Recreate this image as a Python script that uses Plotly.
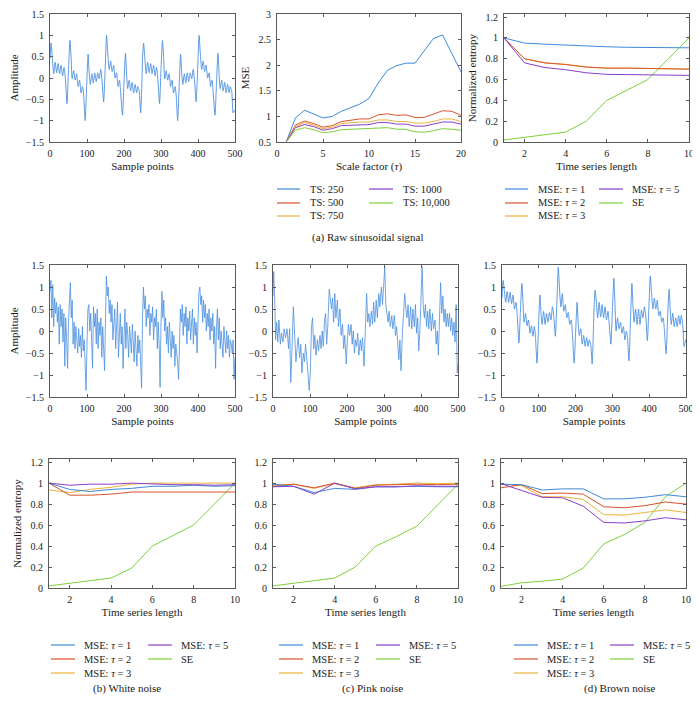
import plotly.graph_objects as go
import numpy as np

OFF = 8                 # default page margin of the browser body
W, H = 692, 694         # figure size so that it fits the 700x702 window
FONT = "Liberation Serif, Times New Roman, serif"
TXT = "#1a1a1a"
AX = "#5a5a5a"

colors = ["#3D8BDB", "#D9532C", "#EDB23A", "#8A3FC8", "#7ED13A"]
sig_color = "#4A8FE0"

# ---------------- signals (sample index / amplitude) ----------------
raw_x = [0, 3, 6, 10, 14, 18, 22, 26, 30, 34, 38, 41, 46, 50, 54, 57, 60, 64, 68, 72,
         76, 80, 84, 88, 91, 95, 99, 103, 106, 109, 113, 117, 121, 125, 129, 133, 137, 141, 145, 149,
         153, 156, 160, 164, 168, 172, 176, 180, 184, 188, 191, 196, 200, 204, 207, 210, 214, 218, 222, 226,
         230, 234, 237, 241, 245, 249,
         250, 253, 256, 260, 264, 268, 272, 276, 280, 284, 288, 291, 296, 300, 304, 307, 310, 314, 318, 322,
         326, 330, 334, 338, 341, 345, 349, 353, 356, 359, 363, 367, 371, 375, 379, 383, 387, 391, 395, 399,
         403, 406, 410, 414, 418, 422, 426, 430, 434, 438, 441, 446, 450, 454, 457, 460, 464, 468, 472, 476,
         480, 484, 487, 491, 495, 499]

raw_y = [0.45, 0.82, 0.5, 0.1, 0.37, 0.12, 0.34, 0.1, 0.3, 0.05, 0.25, 0.05, -0.6, 0.2, 0.88, 0.5, -0.02, 0.17, -0.05, 0.1,
         -0.2, -0.05, -0.35, -0.2, -0.4, -1.0, -0.2, 0.56, 0.1, -0.15, 0.1, -0.12, 0.12, -0.08, 0.12, -0.02, 0.2, -0.1, -0.56, 0.2,
         1.0, 0.6, 0.2, 0.4, 0.15, 0.3, 0.0, 0.12, -0.2, -0.05, -0.35, -0.87, -0.1, 0.58, 0.1, -0.25, -0.05, -0.3, -0.1, -0.35,
         -0.15, -0.35, -0.2, -0.3, -0.82, 0.1,
         0.45, 0.82, 0.5, 0.1, 0.37, 0.12, 0.34, 0.1, 0.3, 0.05, 0.25, 0.05, -0.6, 0.2, 0.88, 0.5, -0.02, 0.17, -0.05, 0.1,
         -0.2, -0.05, -0.35, -0.2, -0.4, -1.0, -0.2, 0.56, 0.1, -0.15, 0.1, -0.12, 0.12, -0.08, 0.12, -0.02, 0.2, -0.1, -0.56, 0.2,
         1.0, 0.6, 0.2, 0.4, 0.15, 0.3, 0.0, 0.12, -0.2, -0.05, -0.35, -0.87, -0.1, 0.58, 0.1, -0.25, -0.05, -0.3, -0.1, -0.35,
         -0.15, -0.35, -0.2, -0.3, -0.82, -0.75]

brown_y = [0.75, 1.15, 0.95, 0.65, 0.9, 0.65, 0.88, 0.62, 0.82, 0.5, 0.65, 0.4, -0.27, 0.45, 1.08, 0.65, 0.2, 0.4, 0.12, 0.25,
           -0.05, 0.12, -0.12, 0.1, -0.15, -0.73, 0.05, 0.82, 0.4, 0.15, 0.45, 0.15, 0.4, 0.2, 0.42, 0.25, 0.55, 0.3, -0.12, 0.6,
           1.45, 1.0, 0.55, 0.85, 0.45, 0.6, 0.3, 0.42, 0.15, 0.25, 0.0, -0.73, -0.05, 0.65, 0.2, -0.1, 0.05, -0.3, -0.1, -0.35,
           -0.15, -0.35, -0.2, -0.3, -0.75, 0.2,
           0.5, 0.93, 0.7, 0.3, 0.65, 0.32, 0.6, 0.3, 0.55, 0.25, 0.45, 0.2, -0.3, 0.5, 1.2, 0.6, 0.0, 0.3, 0.05, 0.2,
           -0.05, 0.1, -0.2, 0.0, -0.15, -0.68, 0.2, 1.08, 0.55, 0.2, 0.5, 0.15, 0.5, 0.15, 0.48, 0.3, 0.55, 0.3, -0.22, 0.5,
           1.25, 0.9, 0.5, 0.75, 0.5, 0.7, 0.35, 0.45, 0.2, 0.3, 0.05, -0.52, 0.3, 0.95, 0.5, 0.15, 0.4, 0.1, 0.3, 0.1,
           0.35, 0.15, 0.35, 0.15, -0.35, -0.2]

# white noise, read every 2.5 samples from 0 to 500
white_y = [0.9, 1.15, 0.3, 1.05, 0.1, 0.75, 0.4, 0.65, 0.2, 0.55, -0.3, 0.6, 0.1, 0.5, -0.25, 0.4, -0.8, 0.3, -0.2, -0.85,
           0.2, 0.6, 1.1, 0.3, 0.7, -0.3, 0.2, -0.4, 0.1, -0.2, -0.5, 0.05, -0.35, -0.1, -0.6, 0.1, -0.45, -0.2, -0.75, -1.35,
           -0.3, 0.5, 0.6, 0.0, 0.4, -0.2, -0.85, 0.55, 0.1, 0.4, -0.3, 0.5, -0.4, 0.2, -0.1, 0.3, -0.6, 0.1, -0.4, -0.9,
           0.3, 1.25, 0.8, 1.0, 0.4, 0.7, 0.2, 0.6, -0.2, 0.3, 0.5, -0.4, 0.1, 0.65, -0.6, 0.2, 0.4, -0.3, 0.1, -0.85,
           0.1, 0.5, -0.4, 0.2, -0.1, -0.6, 0.1, -0.2, -0.5, 0.15, -0.3, -0.7, 0.0, -0.4, -0.8, -0.1, -0.5, -0.2, -0.6, -1.3,
           0.3, 1.0, 0.5, 0.8, 0.1, 0.5, 0.3, 0.6, -0.1, 0.4, 0.2, 0.55, -0.2, 0.3, 0.1, 0.5, -0.4, 0.2, -0.3, -1.28,
           0.2, 0.9, 0.3, 0.7, 0.0, 0.3, -0.3, 0.1, -0.5, 0.2, -0.2, -0.6, 0.0, -0.4, -0.1, -0.8, -0.3, -0.5, -0.7, -1.1,
           0.0, 0.5, 0.2, 0.6, -0.1, 0.4, 0.1, 0.55, -0.3, 0.3, 0.0, 0.45, -0.2, 0.2, 0.5, -0.3, 0.3, -0.1, 0.2, -0.5,
           0.4, 0.9, 1.0, 0.6, 0.8, 0.2, 0.7, 0.3, 0.6, 0.0, 0.4, 0.1, 0.5, -0.2, 0.3, 0.0, 0.4, -0.3, 0.1, -0.85,
           0.1, 0.5, -0.2, 0.3, -0.4, 0.0, -0.3, -0.6, 0.1, -0.2, -0.5, 0.0, -0.4, -0.1, -0.6, -0.2, -0.3, -0.5, -0.2, -1.1,
           -0.6]
white_x = np.linspace(0, 500, len(white_y))

pink_pts = [(0, 0.8), (2, 1.35), (5, 0.6), (7, -0.2), (10, 0.2), (13, -0.25), (16, 0.25), (20, -0.3), (23, -0.05), (27, -0.25),
            (30, 0.05), (34, -0.15), (38, 0.05), (42, -0.4), (45, 0.05), (48, -1.17), (51, -0.5), (55, 0.55), (58, 0.0), (62, -0.7),
            (65, -0.4), (68, -0.15), (72, -0.6), (75, -0.3), (78, -0.95), (82, -0.5), (85, -0.7), (88, -0.3), (92, -0.7), (95, -1.0),
            (98, -1.35), (101, -0.9), (104, 0.1), (107, 0.3), (110, -0.4), (113, -0.1), (116, -0.55), (120, -0.2), (123, -0.45), (127, -0.1),
            (130, -0.4), (133, 0.0), (136, -0.35), (139, 0.2), (142, 0.4), (145, -0.3), (148, 0.1), (152, 0.95), (155, 0.65), (158, 0.5),
            (161, 0.75), (164, 0.2), (167, 0.85), (170, 0.3), (174, 0.7), (177, 0.1), (181, 0.5), (184, -0.1), (188, 0.15), (191, -0.4),
            (194, -0.1), (198, -0.75), (201, -0.2), (204, 0.15), (207, -0.1), (211, 0.15), (214, -0.3), (217, 0.0), (220, -0.5), (223, -0.2),
            (226, -0.35), (229, -0.05), (232, -0.55), (236, -0.2), (239, -0.45), (242, -0.15), (246, -0.8), (250, 0.3), (253, 0.85), (256, 0.2),
            (259, 0.4), (262, 0.1), (266, 0.45), (269, 0.15), (272, 0.65), (275, 0.2), (279, 0.7), (282, 0.3), (286, 0.85), (289, 0.55),
            (293, 1.0), (296, 0.6), (299, 1.1), (302, 1.45), (305, 0.6), (308, 0.4), (311, 0.2), (314, 0.45), (317, 0.1), (321, 0.35),
            (324, 0.05), (328, 0.35), (331, -0.1), (334, 0.1), (337, -0.3), (340, -0.65), (343, -0.2), (346, -0.9), (350, 0.0), (353, 0.5),
            (356, 0.85), (359, 0.5), (362, 0.3), (365, 0.6), (368, 0.1), (372, 0.55), (375, 0.05), (378, 0.5), (382, 0.1), (385, 0.6),
            (388, -0.05), (391, 0.3), (394, -0.45), (397, 0.0), (400, 0.7), (403, 1.45), (406, 0.6), (409, 0.3), (412, 0.6), (415, 0.1),
            (418, 0.45), (421, 0.05), (424, 0.5), (428, 0.0), (431, 0.4), (434, 0.05), (438, 0.25), (441, -0.3), (444, 0.0), (447, -0.55),
            (450, 0.3), (453, 1.1), (456, 0.4), (459, 0.8), (462, 0.2), (465, 0.5), (468, 0.1), (471, 0.4), (474, 0.1), (477, 0.4),
            (480, 0.0), (483, 0.3), (486, -0.1), (489, 0.2), (492, -0.25), (495, 0.6), (498, -0.95), (500, -0.75)]
pink_x = [p[0] for p in pink_pts]
pink_y = [p[1] for p in pink_pts]

# ---------------- MSE vs scale factor ----------------
tau = list(range(1, 21))
mse_names = ["TS: 250", "TS: 500", "TS: 750", "TS: 1000", "TS: 10,000"]
mse_ts250 = [0.5, 0.97, 1.12, 1.05, 0.97, 1.0, 1.1, 1.17, 1.24, 1.35, 1.65, 1.9, 1.99, 2.04, 2.04, 2.28, 2.52, 2.59, 2.23, 1.87]
mse_ts500 = [0.5, 0.83, 0.91, 0.86, 0.79, 0.82, 0.9, 0.93, 0.95, 0.95, 1.03, 1.05, 1.02, 1.03, 0.98, 0.98, 1.05, 1.11, 1.1, 1.02]
mse_ts750 = [0.5, 0.8, 0.88, 0.83, 0.76, 0.79, 0.86, 0.88, 0.89, 0.89, 0.93, 0.93, 0.9, 0.9, 0.87, 0.87, 0.9, 0.95, 0.95, 0.9]
mse_ts1000 = [0.5, 0.78, 0.84, 0.8, 0.73, 0.76, 0.82, 0.83, 0.84, 0.84, 0.88, 0.88, 0.85, 0.85, 0.81, 0.81, 0.85, 0.89, 0.89, 0.85]
mse_ts10000 = [0.5, 0.73, 0.78, 0.74, 0.68, 0.7, 0.74, 0.75, 0.76, 0.76, 0.78, 0.78, 0.75, 0.75, 0.7, 0.69, 0.72, 0.76, 0.75, 0.73]
mse_series = [mse_ts250, mse_ts500, mse_ts750, mse_ts1000, mse_ts10000]

# ---------------- normalized entropy vs time series length ----------------
lengths = list(range(1, 11))
ent_names = ["MSE: <i>τ</i> = 1", "MSE: <i>τ</i> = 2", "MSE: <i>τ</i> = 3", "MSE: <i>τ</i> = 5", "SE"]
ent_tickvals = [0, 0.2, 0.4, 0.6, 0.8, 1.0, 1.2]
ent_ticktext = ["0", "0.2", "0.4", "0.6", "0.8", "1", "1.2"]

raw_t1 = [1.0, 0.95, 0.94, 0.93, 0.92, 0.915, 0.91, 0.91, 0.91, 0.905]
raw_t2 = [1.0, 0.80, 0.76, 0.745, 0.72, 0.71, 0.71, 0.705, 0.70, 0.70]
raw_t3 = [1.0, 0.80, 0.76, 0.745, 0.72, 0.71, 0.71, 0.705, 0.70, 0.70]
raw_t5 = [1.0, 0.76, 0.715, 0.695, 0.665, 0.65, 0.648, 0.645, 0.643, 0.64]
raw_se = [0.02, 0.045, 0.07, 0.095, 0.2, 0.4, 0.5, 0.6, 0.8, 1.0]

white_t1 = [1.0, 0.94, 0.92, 0.94, 0.95, 0.97, 0.97, 0.98, 0.97, 0.975]
white_t2 = [1.0, 0.885, 0.885, 0.895, 0.915, 0.915, 0.915, 0.92, 0.92, 0.915]
white_t3 = [0.935, 0.91, 0.94, 0.96, 0.99, 1.0, 1.0, 1.0, 1.0, 1.0]
white_t5 = [1.0, 0.98, 0.99, 0.99, 1.0, 0.99, 0.985, 0.985, 0.98, 0.985]
white_se = [0.02, 0.045, 0.07, 0.095, 0.19, 0.4, 0.5, 0.6, 0.8, 1.0]

pink_t1 = [0.99, 0.97, 0.91, 0.95, 0.94, 0.965, 0.965, 0.97, 0.965, 0.965]
pink_t2 = [0.97, 0.99, 0.955, 1.0, 0.95, 0.98, 0.985, 0.99, 0.985, 0.99]
pink_t3 = [0.98, 0.99, 0.95, 0.995, 0.955, 0.985, 0.99, 1.0, 0.995, 1.0]
pink_t5 = [0.965, 0.97, 0.895, 1.0, 0.945, 0.965, 0.965, 0.975, 0.97, 0.97]
pink_se = [0.02, 0.045, 0.07, 0.095, 0.2, 0.4, 0.49, 0.59, 0.79, 0.99]

brown_t1 = [0.99, 0.985, 0.935, 0.945, 0.945, 0.85, 0.85, 0.865, 0.89, 0.87]
brown_t2 = [0.955, 0.985, 0.9, 0.905, 0.895, 0.775, 0.765, 0.785, 0.82, 0.8]
brown_t3 = [0.99, 0.975, 0.87, 0.87, 0.845, 0.7, 0.695, 0.72, 0.745, 0.72]
brown_t5 = [0.995, 0.93, 0.865, 0.86, 0.78, 0.625, 0.62, 0.64, 0.67, 0.65]
brown_se = [0.015, 0.05, 0.065, 0.085, 0.19, 0.42, 0.51, 0.625, 0.87, 1.0]

captions = ["(a) Raw sinusoidal signal", "(b) White noise", "(c) Pink noise", "(d) Brown noise"]


# ---------------- layout helpers (page pixels -> paper fractions) ----------------
def px(x):
    return (x - OFF) / W


def py(y):
    return 1 - (y - OFF) / H


fig = go.Figure()

base = dict(showline=True, linecolor=AX, linewidth=1, mirror="ticks", ticks="inside",
            ticklen=3, tickwidth=1, tickcolor=AX, showgrid=False, zeroline=False,
            tickfont=dict(family=FONT, size=10, color=TXT),
            title_font=dict(family=FONT, size=11, color=TXT), automargin=False)

# panel definitions: (pixel x-range, pixel y-range, xrange, xdtick, yrange, ydtick, xtitle, ytitle)
panels = [
    ((50, 235), (14, 142), [0, 500], 100, [-1.5, 1.5], 0.5, "Sample points", "Amplitude"),
    ((277, 461), (14, 142), [0, 20], 5, [0.5, 3], 0.5, "Scale factor (<i>τ</i>)", "MSE"),
    ((504, 689), (14, 142), [1, 10], 2, [0, 1.23], 0.2, "Time series length", "Normalized entropy"),
    ((50, 235), (265, 397), [0, 500], 100, [-1.5, 1.5], 0.5, "Sample points", "Amplitude"),
    ((273, 458), (265, 397), [0, 500], 100, [-1.5, 1.5], 0.5, "Sample points", None),
    ((502, 686), (265, 397), [0, 500], 100, [-1.5, 1.5], 0.5, "Sample points", None),
    ((49, 235), (459, 588), [1, 10], 2, [0, 1.23], 0.2, "Time series length", "Normalized entropy"),
    ((273, 458), (459, 588), [1, 10], 2, [0, 1.23], 0.2, "Time series length", None),
    ((501, 686), (459, 588), [1, 10], 2, [0, 1.23], 0.2, "Time series length", None),
]

layout_axes = {}
for i, (pxr, pyr, xr, xd, yr, yd, xt, yt) in enumerate(panels, start=1):
    xa = dict(base, domain=[px(pxr[0]), px(pxr[1])], range=xr, dtick=xd, tick0=(2 if xd == 2 else 0),
              anchor=("y" if i == 1 else "y%d" % i), title=dict(text=xt, standoff=4),
              ticklabelstandoff=2)
    ya = dict(base, domain=[py(pyr[1]), py(pyr[0])], range=yr, dtick=yd, tick0=0,
              anchor=("x" if i == 1 else "x%d" % i), ticklabelstandoff=3, side="left")
    if yd == 0.2:
        ya.update(tickmode="array", tickvals=ent_tickvals, ticktext=ent_ticktext,
                  ticklabeloverflow="allow", showticklabels=True)
    if yt:
        ya["title"] = dict(text=yt, standoff=6)
    layout_axes["xaxis" if i == 1 else "xaxis%d" % i] = xa
    layout_axes["yaxis" if i == 1 else "yaxis%d" % i] = ya


def ax_ref(i):
    return ("x" if i == 1 else "x%d" % i), ("y" if i == 1 else "y%d" % i)


def add_line(i, x, y, color, name, width=1.0, shape="linear"):
    xr, yr = ax_ref(i)
    fig.add_trace(go.Scatter(x=x, y=y, mode="lines", name=name, xaxis=xr, yaxis=yr,
                             line=dict(color=color, width=width, shape=shape, smoothing=0.6),
                             showlegend=False, hoverinfo="skip"))


# signals
add_line(1, raw_x, raw_y, sig_color, "Raw signal", 0.9, "spline")
add_line(4, white_x, white_y, sig_color, "White noise", 0.8)
add_line(5, pink_x, pink_y, sig_color, "Pink noise", 0.8)
add_line(6, raw_x, brown_y, sig_color, "Brown noise", 0.9, "spline")

# MSE curves
for s, nm, c in zip(mse_series, mse_names, colors):
    add_line(2, tau, s, c, nm, 1.0)

ent_sets = {
    3: [raw_t1, raw_t2, raw_t3, raw_t5, raw_se],
    7: [white_t1, white_t2, white_t3, white_t5, white_se],
    8: [pink_t1, pink_t2, pink_t3, pink_t5, pink_se],
    9: [brown_t1, brown_t2, brown_t3, brown_t5, brown_se],
}
draw_order = [4, 2, 1, 0, 3]
for i, sets in ent_sets.items():
    for k in draw_order:
        add_line(i, lengths, sets[k], colors[k], ent_names[k], 1.0)

# ---------------- legends (MATLAB style, two columns, column-major) ----------------
shapes = []
annotations = []


def legend(names, cols, rows):
    for k, nm in enumerate(names):
        c = 0 if k < 3 else 1
        r = k if k < 3 else k - 3
        x0, x1, xt = cols[c]
        yy = py(rows[r])
        shapes.append(dict(type="line", xref="paper", yref="paper", x0=px(x0), x1=px(x1),
                           y0=yy, y1=yy, line=dict(color=colors[k], width=1.2)))
        annotations.append(dict(text=nm, xref="paper", yref="paper", x=px(xt), y=yy,
                                xanchor="left", yanchor="middle", showarrow=False,
                                font=dict(family=FONT, size=10.5, color=TXT)))


top_rows = [189, 203, 216]
bot_rows = [645, 659, 673]
legend(mse_names, [(277, 300, 308), (369, 393, 401)], top_rows)
legend(ent_names, [(505, 528, 536), (599, 623, 630)], top_rows)
legend(ent_names, [(51, 75, 82), (148, 172, 179)], bot_rows)
legend(ent_names, [(279, 303, 310), (376, 400, 407)], bot_rows)
legend(ent_names, [(514, 538, 545), (610, 634, 641)], bot_rows)

for txt, cx, cy in zip(captions, [368, 127, 372, 620], [237, 688, 688, 688]):
    annotations.append(dict(text=txt, xref="paper", yref="paper", x=px(cx), y=py(cy),
                            xanchor="center", yanchor="middle", showarrow=False,
                            font=dict(family=FONT, size=11, color=TXT)))

fig.update_layout(width=W, height=H, margin=dict(l=0, r=0, t=0, b=0),
                  paper_bgcolor="white", plot_bgcolor="white", showlegend=False,
                  font=dict(family=FONT, size=10, color=TXT),
                  shapes=shapes, annotations=annotations, **layout_axes)

fig.write_html("out.html", config={"displayModeBar": False})
